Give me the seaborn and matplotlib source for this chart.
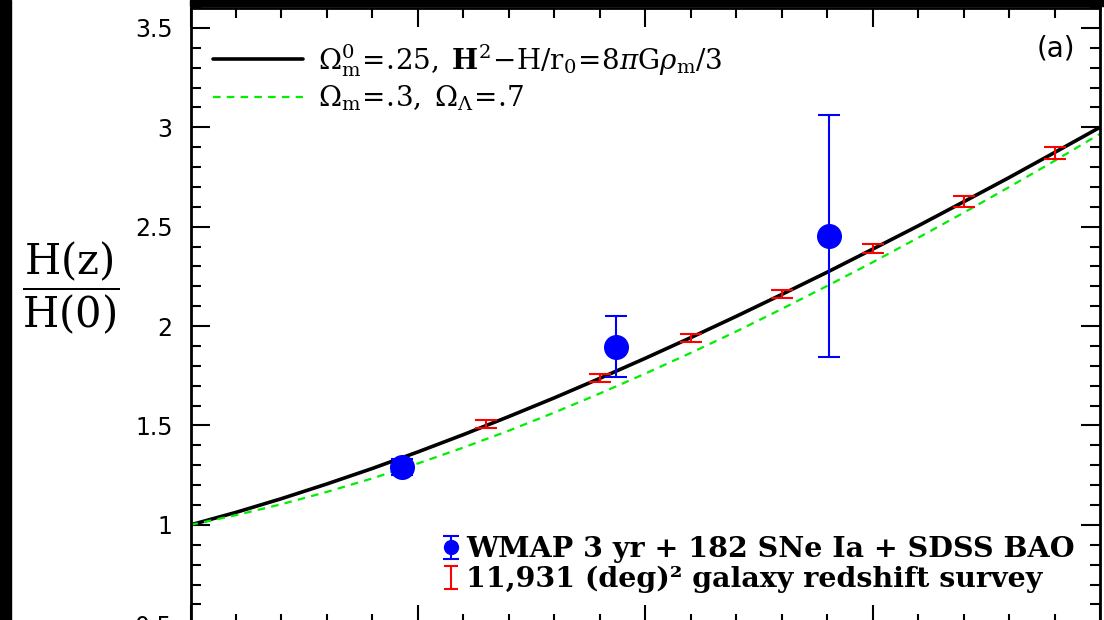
import matplotlib
matplotlib.use("Agg")
import matplotlib.pyplot as plt
import seaborn as sns
from matplotlib.patches import Rectangle
from matplotlib.ticker import MultipleLocator, FuncFormatter
from matplotlib.legend_handler import HandlerErrorbar

# model curves, every 0.1 in z
z_curve = [0.0, 0.1, 0.2, 0.3, 0.4, 0.5, 0.6, 0.7, 0.8, 0.9, 1.0,
           1.1, 1.2, 1.3, 1.4, 1.5, 1.6, 1.7, 1.8, 1.9, 2.0]
h_dgp = [1.000, 1.063, 1.132, 1.206, 1.284, 1.367, 1.454, 1.545, 1.639, 1.737, 1.838,
         1.942, 2.049, 2.159, 2.271, 2.387, 2.504, 2.625, 2.747, 2.873, 3.000]
h_lcdm = [1.000, 1.049, 1.104, 1.166, 1.234, 1.309, 1.389, 1.474, 1.565, 1.661, 1.761,
          1.865, 1.973, 2.086, 2.202, 2.321, 2.444, 2.570, 2.699, 2.831, 2.967]

# WMAP 3 yr + SNe + BAO points (asymmetric errors)
z_wmap = [0.466, 0.935, 1.404]
h_wmap = [1.289, 1.893, 2.455]
wmap_lo = [0.04, 0.148, 0.609]
wmap_hi = [0.04, 0.159, 0.609]

# galaxy redshift survey forecast
z_survey = [0.65, 0.9, 1.1, 1.3, 1.5, 1.7, 1.9]
h_survey = [1.507, 1.739, 1.940, 2.162, 2.391, 2.626, 2.872]
err_survey = [0.020, 0.021, 0.021, 0.022, 0.024, 0.027, 0.030]

lab_dgp = (r'$\Omega^{0}_{\rm m}\!=\!.\!25,\;\mathbf{H}^{2}\!-\!\mathrm{H}/\mathrm{r}_{0}'
           r'\!=\!8\pi\mathrm{G}\rho_{\rm m}/3$')
lab_lcdm = r'$\Omega_{\rm m}\!=\!.\!3,\;\Omega_{\Lambda}\!=\!.\!7$'
lab_wmap = 'WMAP 3 yr + 182 SNe Ia + SDSS BAO'
lab_survey = '11,931 (deg)² galaxy redshift survey'

sns.set_theme(style="white")
plt.rcParams['font.family'] = ['DejaVu Sans']
plt.rcParams.update({'text.color': 'black', 'axes.labelcolor': 'black',
                     'xtick.color': 'black', 'ytick.color': 'black'})

W, H = 1104, 620
nan = float('nan')
fig = plt.figure(figsize=(W / 100, H / 100), dpi=100, facecolor='white')
ax = fig.add_axes([190.5 / W, (H - 624.3) / H, 909.5 / W, 616.3 / H])
ax.set_facecolor('white')

# black border bits of the scan
fig.patches.append(Rectangle((0, 0), 11 / W, 1, transform=fig.transFigure,
                             color='black', zorder=5))
fig.patches.append(Rectangle((190 / W, 1 - 6 / H), 1, 6 / H, transform=fig.transFigure,
                             color='black', zorder=5))

sns.lineplot(x=z_curve, y=h_dgp, color='black', lw=2.6, ax=ax, legend=False)
sns.lineplot(x=z_curve, y=h_lcdm, color='#00ee00', lw=1.6, ax=ax, legend=False)
line_dgp, line_lcdm = ax.lines[0], ax.lines[1]
line_lcdm.set_dashes((3.4, 2.8))

ax.errorbar(z_survey, h_survey, yerr=err_survey, fmt='none', ecolor='red',
            elinewidth=1.5, capsize=8, capthick=1.5, zorder=4)
ax.errorbar(z_wmap, h_wmap, yerr=[wmap_lo, wmap_hi], fmt='o', color='blue',
            ms=17, elinewidth=1.5, capsize=8, capthick=1.5, zorder=5)

# small proxies (no visible data) for the legend icons
p_wmap = ax.errorbar([nan], [nan], yerr=[nan], fmt='o', color='blue', ms=10,
                     elinewidth=1.5, capsize=6, capthick=1.5)
p_survey = ax.errorbar([nan], [nan], yerr=[nan], fmt='none', ecolor='red',
                       elinewidth=1.5, capsize=5, capthick=1.5)

ax.set_xlim(0, 2)
ax.set_ylim(0.5, 3.6)
ax.xaxis.set_major_locator(MultipleLocator(0.5))
ax.xaxis.set_minor_locator(MultipleLocator(0.1))
ax.yaxis.set_major_locator(MultipleLocator(0.5))
ax.yaxis.set_minor_locator(MultipleLocator(0.1))
ax.yaxis.set_major_formatter(FuncFormatter(lambda v, p: f'{v:g}'))
ax.tick_params(which='major', direction='in', length=14, width=1.5,
               top=True, right=True, bottom=True, left=True,
               labelbottom=False, labelsize=17, pad=13, color='black',
               labelcolor='black')
ax.tick_params(which='minor', direction='in', length=7, width=1.5,
               top=True, right=True, bottom=True, left=True, color='black')
for s in ax.spines.values():
    s.set_color('black')
    s.set_linewidth(2)

leg1 = ax.legend([line_dgp, line_lcdm], [lab_dgp, lab_lcdm], loc='upper left',
                 bbox_to_anchor=(0.0247, 0.945), frameon=False, fontsize=20,
                 handlelength=3.25, handletextpad=0.54, labelspacing=0.18,
                 borderpad=0, borderaxespad=0, labelcolor='black')
for t in leg1.get_texts():
    t.set_math_fontfamily('dejavuserif')
ax.add_artist(leg1)

ax.legend([p_wmap, p_survey], [lab_wmap, lab_survey], loc='lower right',
          bbox_to_anchor=(0.9725, 0.05), frameon=False,
          prop={'family': 'DejaVu Serif', 'weight': 'bold', 'size': 20.5},
          handlelength=0.6, handletextpad=0.25, labelspacing=0.1,
          borderpad=0, borderaxespad=0, labelcolor='black',
          handler_map={type(p_wmap): HandlerErrorbar(xerr_size=0.4)})

ax.text(1056, H - 48, '(a)', transform=None, fontsize=20, ha='center', va='center',
        color='black')
fig.text(71 / W, 1 - 288 / H, r'$\dfrac{\mathrm{H(z)}}{\mathrm{H(0)}}$',
         fontsize=30, ha='center', va='center', math_fontfamily='dejavuserif',
         color='black')

fig.savefig('out.png', dpi=100, facecolor='white')
